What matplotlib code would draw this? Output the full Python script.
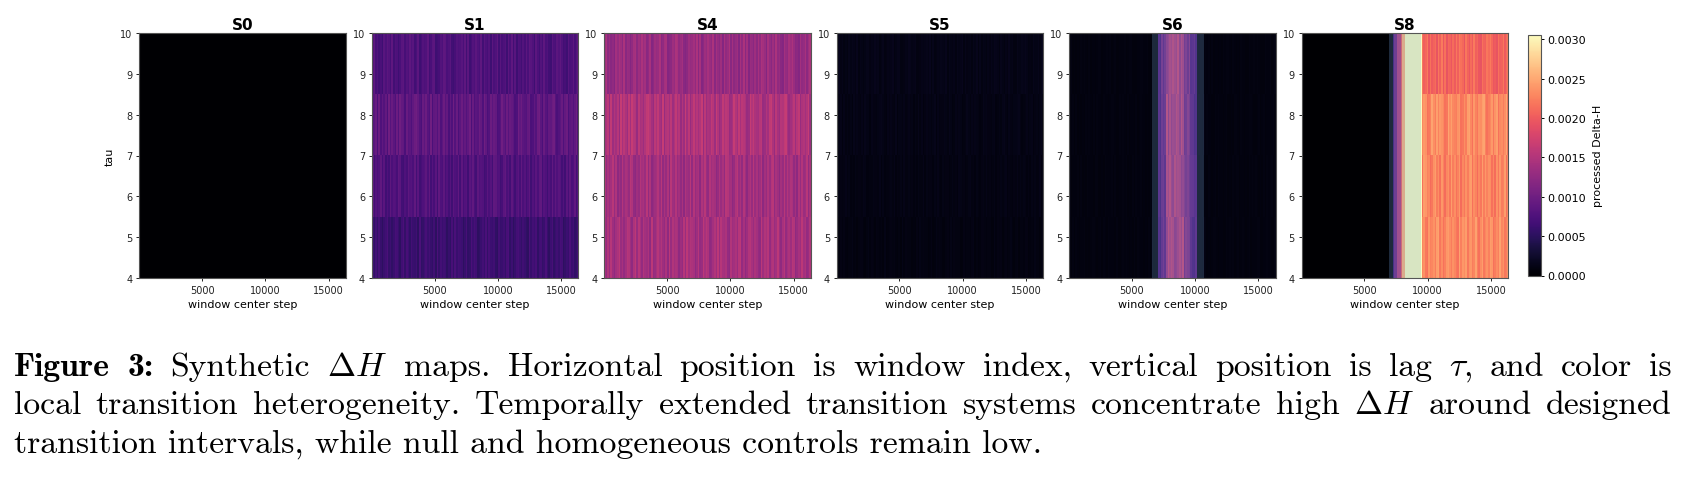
import numpy as np
import matplotlib
matplotlib.use("Agg")
import matplotlib.pyplot as plt

# ---------------- data ----------------
panel_names = ["S0", "S1", "S4", "S5", "S6", "S8"]
tau_ticks = [4, 5, 6, 7, 8, 9, 10]
tau_range = [4, 10]                 # 4 lag rows span this range
x_ticks = [5000, 10000, 15000]
step_first, step_last = 32, 16352   # window-centre step range
n_windows = 128

# row levels (bottom row -> top row) for the homogeneous panels
s0_rows = [0.0, 0.0, 0.0, 0.0]
s1_rows = [0.00062, 0.00077, 0.00087, 0.00076]
s4_rows = [0.00141, 0.00139, 0.00148, 0.00131]
s5_rows = [0.00010, 0.00011, 0.00012, 0.00013]

# S6: piecewise column profile (step boundaries and level of each segment)
s6_bounds = [6616, 7014, 7350, 7677, 9134, 9600, 10064, 10724]
s6_levels = [0.00009, 0.00007, 0.00072, 0.00095, 0.00148, 0.00112, 0.00080, 0.00010, 0.00009]

# S8: piecewise column profile; last segment level differs per row
s8_bounds = [6935, 7150, 7350, 7550, 7750, 7950, 8150, 9507]
s8_levels = [0.0, 0.00008, 0.00060, 0.00100, 0.00150, 0.00200, 0.00255, 0.00306]
s8_tail_rows = [0.00231, 0.00228, 0.00232, 0.00208]

# transition intervals highlighted in S6 and S8
s6_interval = (6616, 10724)
s8_interval = (6935, 9507)

# hand-estimated stripe intensity digits (0-9), one string per lag row
stripe_rows = [
    "5172 8304 6925 1487 3069 2851 7436 0912 5847 3160 9274 6503 1829 4765 0381 2958 "
    "6014 7392 8546 1073 4628 9150 3785 2641 0937 5816 7249 3058 1463 8702 5394 6127",
    "8163 5927 0418 3652 9710 4285 6391 7024 5839 1627 0943 8251 6074 3918 2560 7493 "
    "1846 5027 3619 8450 2793 6184 0572 9361 4805 2738 9164 0529 3847 6150 7283 4916",
    "3470 8152 6093 7418 2965 0734 1589 6207 4831 9056 2714 8360 5192 7048 3625 9071 "
    "4386 1950 2847 6013 9528 3764 0195 8432 6701 5289 4073 1658 9302 4716 8045 2591",
    "6925 1307 4862 9154 0378 2649 5713 8026 4591 3780 1264 9835 7102 6457 3918 0264 "
    "8539 1742 6083 5917 2460 8391 7054 1628 3975 0841 6293 5107 4386 9512 0734 8269",
]
stripe_amp = {"S0": 0.0, "S1": 0.035, "S4": 0.025, "S5": 0.05, "S6": 0.03, "S8": 0.015}

vmax = 0.00306
cbar_ticks = [0.0, 0.0005, 0.0010, 0.0015, 0.0020, 0.0025, 0.0030]

caption_lines = [
    ["Figure", "3:", "Synthetic", r"$\Delta H$", "maps.", "Horizontal", "position", "is", "window",
     "index,", "vertical", "position", "is", "lag", r"$\tau$,", "and", "color", "is"],
    ["local", "transition", "heterogeneity.", "Temporally", "extended", "transition", "systems",
     "concentrate", "high", r"$\Delta H$", "around", "designed"],
    ["transition", "intervals,", "while", "null", "and", "homogeneous", "controls", "remain", "low."],
]

# ---------------- build matrices ----------------
x_edges = np.linspace(step_first, step_last, n_windows + 1)
x_centres = 0.5 * (x_edges[:-1] + x_edges[1:])
stripes = np.array([[int(c) for c in s.replace(" ", "")] for s in stripe_rows], dtype=float)


def uniform_panel(rows):
    return np.array(rows)[:, None] * np.ones((1, n_windows))


def profile_panel(bounds, levels):
    seg = np.searchsorted(bounds, x_centres, side="right")
    return np.tile(np.array(levels)[seg], (4, 1)), seg


mats = {}
mats["S0"] = uniform_panel(s0_rows)
mats["S1"] = uniform_panel(s1_rows)
mats["S4"] = uniform_panel(s4_rows)
mats["S5"] = uniform_panel(s5_rows)
m6, seg6 = profile_panel(s6_bounds, s6_levels)
mats["S6"] = m6
m8, seg8 = profile_panel(s8_bounds, s8_levels + [0.0])
tail = seg8 == len(s8_bounds)
for r in range(4):
    m8[r, tail] = s8_tail_rows[r]
mats["S8"] = m8

for name in panel_names:
    mult = 1.0 + (stripes - 4.5) * stripe_amp[name]
    if name == "S8":
        mult = np.where(tail[None, :], mult, 1.0)
    mats[name] = mats[name] * mult

# ---------------- figure ----------------
W, H = 1702, 481
fig = plt.figure(figsize=(W / 100, H / 100), dpi=100)


def px_rect(l, t, r, b):
    return [l / W, 1 - b / H, (r - l) / W, (b - t) / H]


ax_left0, ax_pitch, ax_w = 139.3, 232.45, 206.4
ax_top, ax_bot = 33.7, 279.3
overlay_color = "#70a1cb"

im = None
for i, name in enumerate(panel_names):
    l = ax_left0 + i * ax_pitch
    ax = fig.add_axes(px_rect(l, ax_top, l + ax_w, ax_bot))
    im = ax.imshow(mats[name], extent=[step_first, step_last, tau_range[0], tau_range[1]],
                   origin="lower", aspect="auto", cmap="magma", vmin=0, vmax=vmax,
                   interpolation="nearest")
    if name == "S6":
        ax.axvspan(*s6_interval, color=overlay_color, alpha=0.25, lw=0)
    if name == "S8":
        ax.axvspan(*s8_interval, color=overlay_color, alpha=0.25, lw=0)
    ax.set_xlim(step_first, step_last)
    ax.set_ylim(*tau_range)
    ax.set_xticks(x_ticks)
    ax.set_yticks(tau_ticks)
    ax.tick_params(labelsize=7, length=2.4, width=0.7, pad=2.4, colors="#222222")
    ax.set_title(name, fontsize=11, fontweight="bold", pad=3)
    ax.set_xlabel("window center step", fontsize=8, labelpad=3)
    if i == 0:
        ax.set_ylabel("tau", fontsize=8, labelpad=4)
    for sp in ax.spines.values():
        sp.set_color("#555555")
        sp.set_linewidth(0.8)

cax = fig.add_axes(px_rect(1527.7, 35.5, 1540.7, 276.5))
cb = fig.colorbar(im, cax=cax, ticks=cbar_ticks, format="%.4f")
cb.ax.tick_params(labelsize=8, length=2.4, width=0.7, pad=2.4)
cb.set_label("processed Delta-H", fontsize=8, labelpad=5)
cb.outline.set_edgecolor("#555555")
cb.outline.set_linewidth(0.8)

# ---------------- caption ----------------
plt.rcParams["mathtext.fontset"] = "cm"
fig.canvas.draw()
renderer = fig.canvas.get_renderer()


def text_width(s, fam, size):
    t = fig.text(0, 0, s, fontfamily=fam, fontsize=size)
    w = t.get_window_extent(renderer).width
    t.remove()
    return w


cap_left, cap_right = 14, 1672
baselines = [375.7, 414.0, 452.7]
line3_target = 1029.0
w20 = text_width(" ".join(caption_lines[2]), "cmr10", 20)
cap_size = 20 * line3_target / w20

for li, words in enumerate(caption_lines):
    fams = ["cmb10" if (li == 0 and wi < 2) else "cmr10" for wi in range(len(words))]
    yfig = 1 - baselines[li] / H
    if li < 2:
        widths = [text_width(w, f, cap_size) for w, f in zip(words, fams)]
        gap = (cap_right - cap_left - sum(widths)) / (len(words) - 1)
        x = cap_left
        for w, f, ww in zip(words, fams, widths):
            fig.text(x / W, yfig, w, fontfamily=f, fontsize=cap_size, va="baseline", ha="left")
            x += ww + gap
    else:
        fig.text(cap_left / W, yfig, " ".join(words), fontfamily="cmr10", fontsize=cap_size,
                 va="baseline", ha="left")

fig.savefig("out.png", dpi=100)
